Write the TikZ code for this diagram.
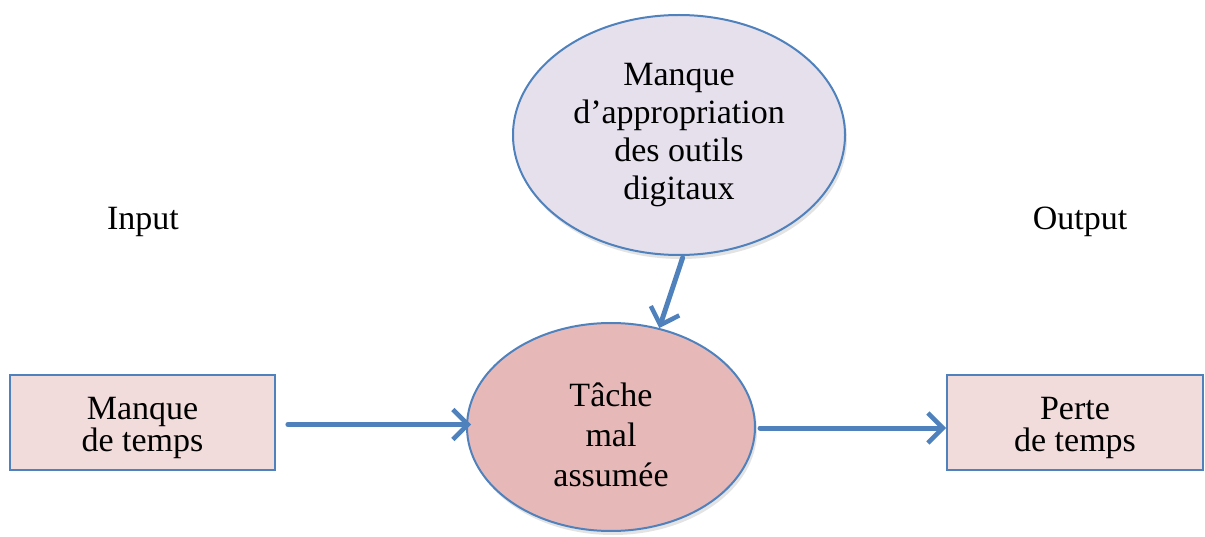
\documentclass[tikz,border=0pt]{standalone}
\usepackage{fontspec}
\setmainfont{Liberation Serif}
\usetikzlibrary{shapes.geometric,arrows.meta,shadows,calc}
\definecolor{bord}{HTML}{4F81BD}
\definecolor{boxfill}{HTML}{F2DCDB}
\definecolor{redfill}{HTML}{E6B9B8}
\definecolor{lilac}{HTML}{E5E0EC}
\tikzset{
  softshadow/.style={drop shadow={shadow xshift=2pt,shadow yshift=-4pt,opacity=0.18,fill=black!60}},
  inbox/.style={rectangle,draw=bord,line width=1.8pt,fill=boxfill,minimum width=265pt,minimum height=95pt,
    align=center,inner sep=0pt,font=\fontsize{34}{32}\selectfont},
  oval/.style={ellipse,draw=bord,line width=2pt,inner sep=0pt,align=center,softshadow},
  flow/.style={draw=bord,line width=5pt,line cap=round,-{Straight Barb[length=15pt,width=30pt,line width=4.5pt]}},
  lbl/.style={font=\fontsize{34}{34}\selectfont}
}
\begin{document}
\begin{tikzpicture}[x=1pt,y=-1pt]
\useasboundingbox (0,0) rectangle (1205,537);
\node[oval,fill=lilac,minimum width=332pt,minimum height=240pt,font=\fontsize{34}{38}\selectfont] (tell) at (679,135)
  {Manque\\d’appropriation\\des outils\\digitaux};
\node[oval,fill=redfill,minimum width=288pt,minimum height=208pt,font=\fontsize{34}{40}\selectfont] (bell) at (611,427)
  {\rule{0pt}{40pt}Tâche\\mal\\assumée};
\node[inbox] (lbox) at (142.5,422.5) {\rule{0pt}{34pt}Manque\\de temps};
\node[inbox,minimum width=256pt] (rbox) at (1075,422.5) {\rule{0pt}{34pt}Perte\\de temps};
\node[lbl] (inp) at (143,222) {Input};
\node[lbl] (outp) at (1080,222) {Output};
\draw[flow,shorten <=12pt] ($(lbox.east)+(0,2)$) -- ($(lbox.east -| bell.west)+(5,2)$);
\draw[flow,shorten <=4pt] ($(bell.east)+(0,1)$) -- ($(bell.east -| rbox.west)+(0,1)$);
\draw[flow,shorten <=2pt] (tell.-88) -- (bell.64);
\end{tikzpicture}
\end{document}
